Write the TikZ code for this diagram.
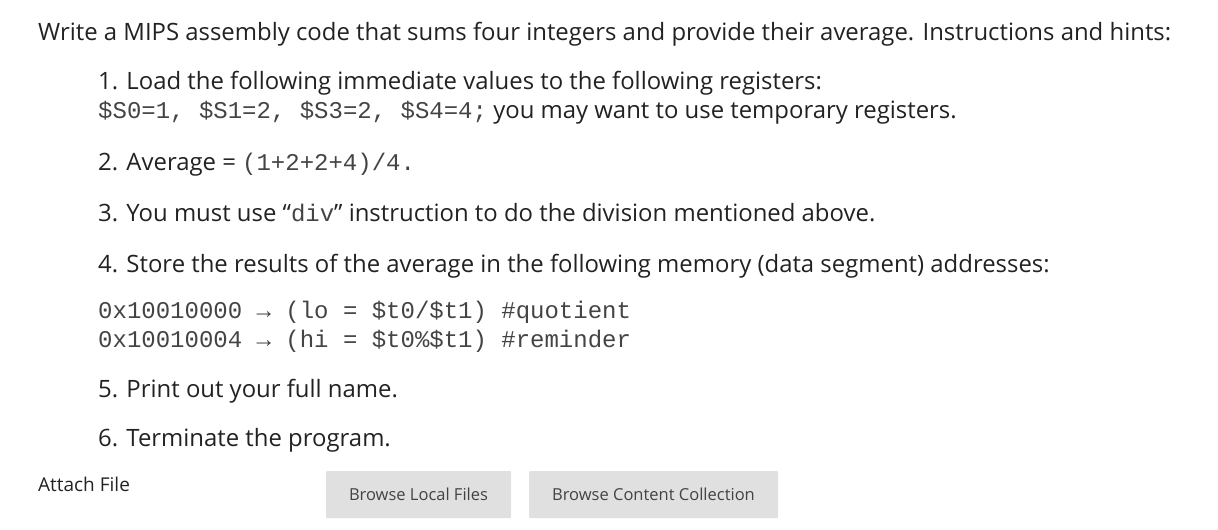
\documentclass[tikz,border=0pt]{standalone}
\usepackage{fontspec}
\setmainfont{Open Sans}
\setmonofont{Liberation Mono}
\definecolor{txt}{HTML}{222222}
\definecolor{mono}{HTML}{444444}
\definecolor{btn}{HTML}{E0E0E0}
\newcommand\mc[1]{\texttt{\color{mono}\fontsize{24}{28}\selectfont #1}}
\begin{document}
\begin{tikzpicture}[x=1pt,y=-1pt,
  t/.style={anchor=base west,inner sep=0,text=txt,font=\fontsize{23.9}{28}\selectfont},
  m/.style={anchor=base west,inner sep=0,text=mono,font=\ttfamily\fontsize{24}{28}\selectfont},
  bt/.style={fill=btn,draw=none,rounded corners=1pt},
  bl/.style={inner sep=0,text=txt!85,font=\fontsize{16.5}{20}\selectfont}]
\useasboundingbox (0,0) rectangle (1218,530);
\node[t] (title) at (38,40) {Write a MIPS assembly code that sums four integers and provide their average. Instructions and hints:};
\node[t] (l1) at (98,89) {1. Load the following immediate values to the following registers:};
\node[t] (l1b) at (98,118) {\mc{\$S0=1, \$S1=2, \$S3=2, \$S4=4;} you may want to use temporary registers.};
\node[t] (l2) at (98,170) {2. Average = \mc{(1+2+2+4)/4.}};
\node[t] (l3) at (98,221) {3. You must use “\mc{div}” instruction to do the division mentioned above.};
\node[t] (l4) at (98,272) {4. Store the results of the average in the following memory (data segment) addresses:};
\node[m] (h1) at (98,318) {0x10010000\ →\ (lo\ =\ \$t0/\$t1)\ \#quotient};
\node[m] (h2) at (98,347) {0x10010004\ →\ (hi\ =\ \$t0\%\$t1)\ \#reminder};
\node[t] (l5) at (98,397) {5. Print out your full name.};
\node[t] (l6) at (98,446) {6. Terminate the program.};
\node[t,font=\fontsize{19}{23}\selectfont] (att) at (38,491) {Attach File};
\path[bt] (326,471) rectangle (511,518);
\node[bl] (b1) at (418.5,494.5) {Browse Local Files};
\path[bt] (529,471) rectangle (778,518);
\node[bl] (b2) at (653.5,494.5) {Browse Content Collection};
\end{tikzpicture}
\end{document}
